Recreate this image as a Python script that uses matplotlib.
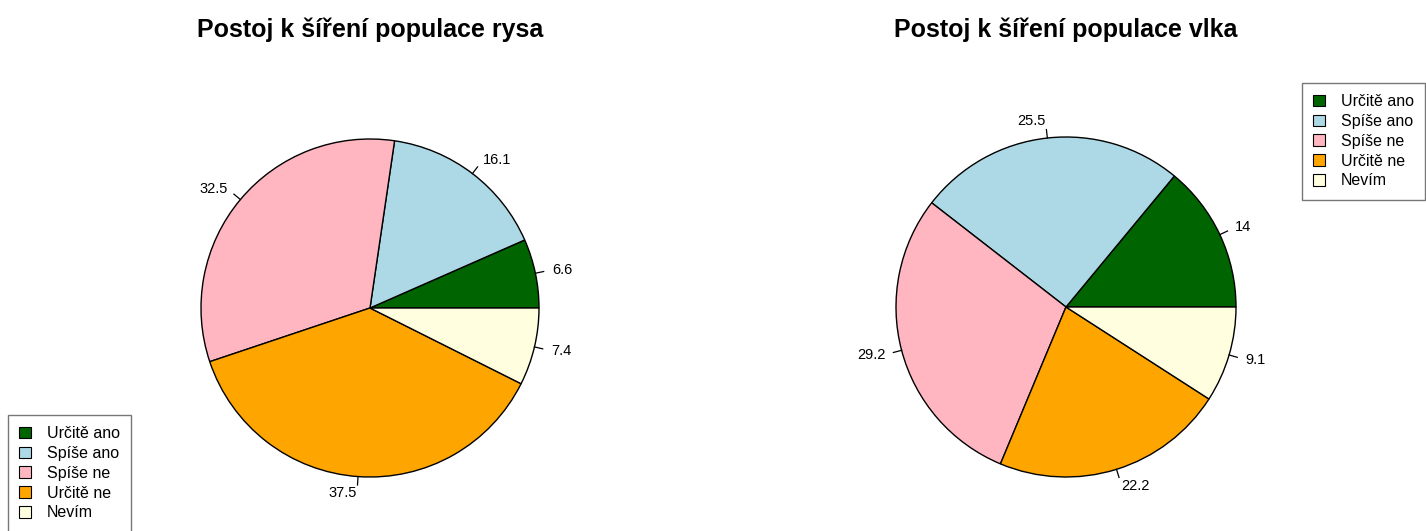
import numpy as np
import matplotlib.pyplot as plt
from matplotlib.patches import Patch

plt.rcParams['font.family'] = ['Liberation Sans', 'DejaVu Sans']

categories = ['Určitě ano', 'Spíše ano', 'Spíše ne', 'Určitě ne', 'Nevím']
rys = [6.6, 16.1, 32.5, 37.5, 7.4]
vlk = [14, 25.5, 29.2, 22.2, 9.1]
colors = ['#006400', '#ADD8E6', '#FFB6C1', '#FFA500', '#FFFFE0']

W, H = 1426, 531
fig = plt.figure(figsize=(W / 100, H / 100), dpi=100)


def pie_axes(cx, cy, r, lim=1.3):
    # cx, cy in pixels from top-left, r = radius in pixels
    half = lim * r
    return fig.add_axes([(cx - half) / W, (H - cy - half) / H, 2 * half / W, 2 * half / H])


def draw_pie(ax, values, title, cx):
    ax.pie(values, colors=colors, startangle=0, counterclock=True,
           radius=1.0, wedgeprops=dict(edgecolor='black', linewidth=1.0))
    total = sum(values)
    start = 0.0
    for v in values:
        mid = 2 * np.pi * (start + v / 2) / total
        c, s = np.cos(mid), np.sin(mid)
        ax.plot([c, 1.05 * c], [s, 1.05 * s], color='black', lw=0.9)
        ax.text(1.1 * c, 1.1 * s, f'{v:g}', fontsize=10.5,
                ha='left' if c > 0 else 'right', va='center')
        start += v
    ax.set_xlim(-1.3, 1.3)
    ax.set_ylim(-1.3, 1.3)
    ax.set_aspect('equal')
    ax.axis('off')
    fig.text(cx / W, 1 - 30 / H, title, ha='center', va='center',
             fontsize=18, fontweight='bold')


ax1 = pie_axes(370, 308, 169)
draw_pie(ax1, rys, 'Postoj k šíření populace rysa', 370)
ax2 = pie_axes(1066, 307, 170)
draw_pie(ax2, vlk, 'Postoj k šíření populace vlka', 1066)

handles = [Patch(facecolor=c, edgecolor='black', linewidth=0.8) for c in colors]
for x0, y0 in [(8, 415), (1302, 83)]:
    leg = fig.legend(handles, categories, loc='upper left',
                     bbox_to_anchor=(x0 / W, 1 - y0 / H), fontsize=11.5,
                     frameon=True, fancybox=False, edgecolor='#555555',
                     handlelength=0.75, handleheight=0.75, handletextpad=1.0,
                     labelspacing=0.3, borderpad=0.7, borderaxespad=0)
    leg.get_frame().set_linewidth(1.0)

fig.savefig('out.png', dpi=100, facecolor='white')
